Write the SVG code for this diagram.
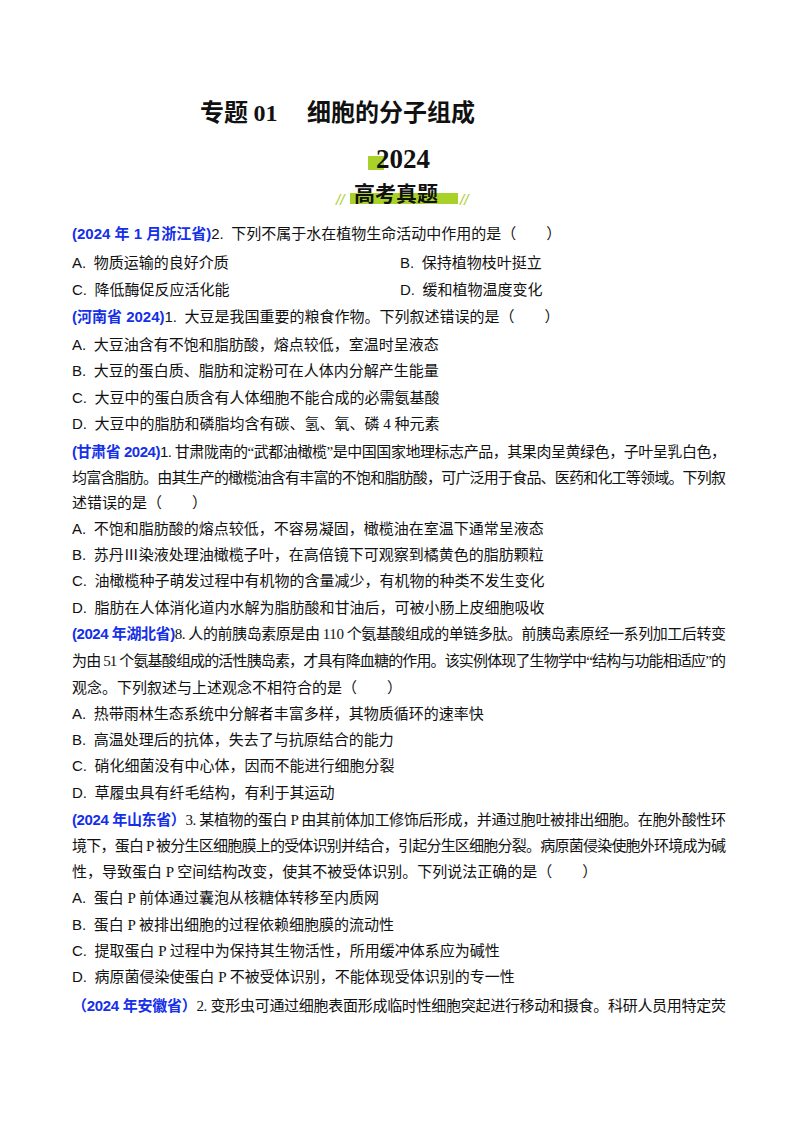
<svg xmlns="http://www.w3.org/2000/svg" width="800" height="1132" viewBox="0 0 800 1132">
<style>
text{font-family:"Liberation Serif","Noto Sans CJK SC",serif;font-size:15px;fill:#111;white-space:pre}
.b{font-family:"Liberation Sans","Noto Sans CJK SC",sans-serif;font-weight:bold;fill:#1530e8}
.s{font-family:"Liberation Sans","Noto Sans CJK SC",sans-serif}
.t{font-family:"Noto Sans CJK SC",sans-serif;font-weight:bold;font-size:24px}
.g{fill:#a8d12a;font-size:15px;font-style:italic;font-family:"Liberation Sans",sans-serif}
</style>
<rect width="800" height="1132" fill="#fff"/>
<g id="header">
<text x="200" y="121" class="t">专题 <tspan style="font-family:'Liberation Serif',serif">01</tspan>　 细胞的分子组成</text>
<rect x="368" y="156" width="16" height="14" fill="#a8d12a"/>
<text x="376" y="168" style="font-family:'Liberation Serif',serif;font-weight:bold;font-size:27px">2024</text>
<rect x="350" y="193" width="108" height="11" fill="#a8d12a"/>
<text x="354" y="201" class="t" style="font-size:21px">高考真题</text>
<text x="336" y="205" class="g">//</text>
<text x="460" y="205" class="g">//</text>
</g>
<g id="body">
<text x="72" y="239"><tspan class="b">(2024 年 1 月浙江省)</tspan><tspan class="s">2.</tspan>  下列不属于水在植物生命活动中作用的是（　　）</text>
<text x="72" y="268"><tspan class="s">A.</tspan>  物质运输的良好介质</text>
<text x="400" y="268"><tspan class="s">B.</tspan>  保持植物枝叶挺立</text>
<text x="72" y="295"><tspan class="s">C.</tspan>  降低酶促反应活化能</text>
<text x="400" y="295"><tspan class="s">D.</tspan>  缓和植物温度变化</text>
<text x="72" y="322"><tspan class="b">(河南省 2024)</tspan><tspan class="s">1.</tspan>  大豆是我国重要的粮食作物。下列叙述错误的是（　　）</text>
<text x="72" y="350"><tspan class="s">A.</tspan>  大豆油含有不饱和脂肪酸，熔点较低，室温时呈液态</text>
<text x="72" y="376"><tspan class="s">B.</tspan>  大豆的蛋白质、脂肪和淀粉可在人体内分解产生能量</text>
<text x="72" y="403"><tspan class="s">C.</tspan>  大豆中的蛋白质含有人体细胞不能合成的必需氨基酸</text>
<text x="72" y="429"><tspan class="s">D.</tspan>  大豆中的脂肪和磷脂均含有碳、氢、氧、磷 4 种元素</text>
<text x="72" y="457" textLength="654"><tspan class="b">(甘肃省 2024)</tspan><tspan class="s">1.</tspan> 甘肃陇南的“武都油橄榄”是中国国家地理标志产品，其果肉呈黄绿色，子叶呈乳白色，</text>
<text x="72" y="483" textLength="654">均富含脂肪。由其生产的橄榄油含有丰富的不饱和脂肪酸，可广泛用于食品、医药和化工等领域。下列叙</text>
<text x="72" y="508">述错误的是（　　）</text>
<text x="72" y="534"><tspan class="s">A.</tspan>  不饱和脂肪酸的熔点较低，不容易凝固，橄榄油在室温下通常呈液态</text>
<text x="72" y="560"><tspan class="s">B.</tspan>  苏丹Ⅲ染液处理油橄榄子叶，在高倍镜下可观察到橘黄色的脂肪颗粒</text>
<text x="72" y="586"><tspan class="s">C.</tspan>  油橄榄种子萌发过程中有机物的含量减少，有机物的种类不发生变化</text>
<text x="72" y="613"><tspan class="s">D.</tspan>  脂肪在人体消化道内水解为脂肪酸和甘油后，可被小肠上皮细胞吸收</text>
<text x="72" y="639" textLength="654"><tspan class="b">(2024 年湖北省)</tspan>8. 人的前胰岛素原是由 110 个氨基酸组成的单链多肽。前胰岛素原经一系列加工后转变</text>
<text x="72" y="666" textLength="654">为由 51 个氨基酸组成的活性胰岛素，才具有降血糖的作用。该实例体现了生物学中“结构与功能相适应”的</text>
<text x="72" y="693">观念。下列叙述与上述观念不相符合的是（　　）</text>
<text x="72" y="719"><tspan class="s">A.</tspan>  热带雨林生态系统中分解者丰富多样，其物质循环的速率快</text>
<text x="72" y="745"><tspan class="s">B.</tspan>  高温处理后的抗体，失去了与抗原结合的能力</text>
<text x="72" y="771"><tspan class="s">C.</tspan>  硝化细菌没有中心体，因而不能进行细胞分裂</text>
<text x="72" y="798"><tspan class="s">D.</tspan>  草履虫具有纤毛结构，有利于其运动</text>
<text x="72" y="825" textLength="654"><tspan class="b">(2024 年山东省）</tspan>3. 某植物的蛋白 P 由其前体加工修饰后形成，并通过胞吐被排出细胞。在胞外酸性环</text>
<text x="72" y="851" textLength="654">境下，蛋白 P 被分生区细胞膜上的受体识别并结合，引起分生区细胞分裂。病原菌侵染使胞外环境成为碱</text>
<text x="72" y="877">性，导致蛋白 P 空间结构改变，使其不被受体识别。下列说法正确的是（　　）</text>
<text x="72" y="903"><tspan class="s">A.</tspan>  蛋白 P 前体通过囊泡从核糖体转移至内质网</text>
<text x="72" y="930"><tspan class="s">B.</tspan>  蛋白 P 被排出细胞的过程依赖细胞膜的流动性</text>
<text x="72" y="956"><tspan class="s">C.</tspan>  提取蛋白 P 过程中为保持其生物活性，所用缓冲体系应为碱性</text>
<text x="72" y="982"><tspan class="s">D.</tspan>  病原菌侵染使蛋白 P 不被受体识别，不能体现受体识别的专一性</text>
<text x="72" y="1011" textLength="654"><tspan class="b">（2024 年安徽省）</tspan>2. 变形虫可通过细胞表面形成临时性细胞突起进行移动和摄食。科研人员用特定荧</text>
</g>
</svg>
